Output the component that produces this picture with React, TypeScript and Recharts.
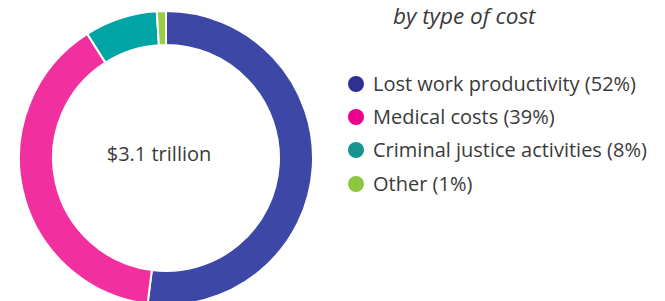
import React from "react";
import { PieChart, Pie, Cell, Legend } from "recharts";

const categories = ["Lost work productivity", "Medical costs", "Criminal justice activities", "Other"];
const shares = [52, 39, 8, 1];
const sliceColors = ["#3D47A5", "#F22F9F", "#00A4A4", "#9CCC45"];
const dotColors = ["#2E3192", "#EC008C", "#17948F", "#8DC63F"];
const title = "by type of cost";
const centerLabel = "$3.1 trillion";

const data = categories.map((name, i) => ({ name, value: shares[i] }));

const FONT = "'Open Sans', 'Noto Sans', sans-serif";

const LegendContent = () => (
  <div style={{ fontFamily: FONT, color: "#3a3a3a" }}>
    <div style={{ fontStyle: "italic", fontSize: 22.5, marginLeft: 45, lineHeight: "28px", marginTop: 0 }}>{title}</div>
    <div style={{ marginTop: 37 }}>
      {categories.map((c, i) => (
        <div key={c} style={{ display: "flex", alignItems: "center", height: 33.3 }}>
          <span style={{ width: 16, height: 16, borderRadius: "50%", background: dotColors[i], display: "inline-block", marginRight: 9, marginLeft: 0 }} />
          <span style={{ fontSize: 20, lineHeight: "24px" }}>{`${c} (${shares[i]}%)`}</span>
        </div>
      ))}
    </div>
  </div>
);

export default function App() {
  return (
    <div style={{ position: "absolute", left: 0, top: 0, background: "#fff" }}>
      <PieChart width={665} height={301}>
        <Pie
          data={data}
          dataKey="value"
          cx={161}
          cy={153}
          innerRadius={113}
          outerRadius={147}
          startAngle={90}
          endAngle={-270}
          stroke="#ffffff"
          strokeWidth={2}
          isAnimationActive={false}
        >
          {data.map((d, i) => (
            <Cell key={d.name} fill={sliceColors[i]} />
          ))}
        </Pie>
        <text x={159} y={153} textAnchor="middle" dominantBaseline="central" fontFamily={FONT} fontSize={20} fill="#3a3a3a">
          {centerLabel}
        </text>
        <Legend
          content={<LegendContent />}
          wrapperStyle={{ position: "absolute", left: 348, top: 2, width: 317 }}
        />
      </PieChart>
    </div>
  );
}
